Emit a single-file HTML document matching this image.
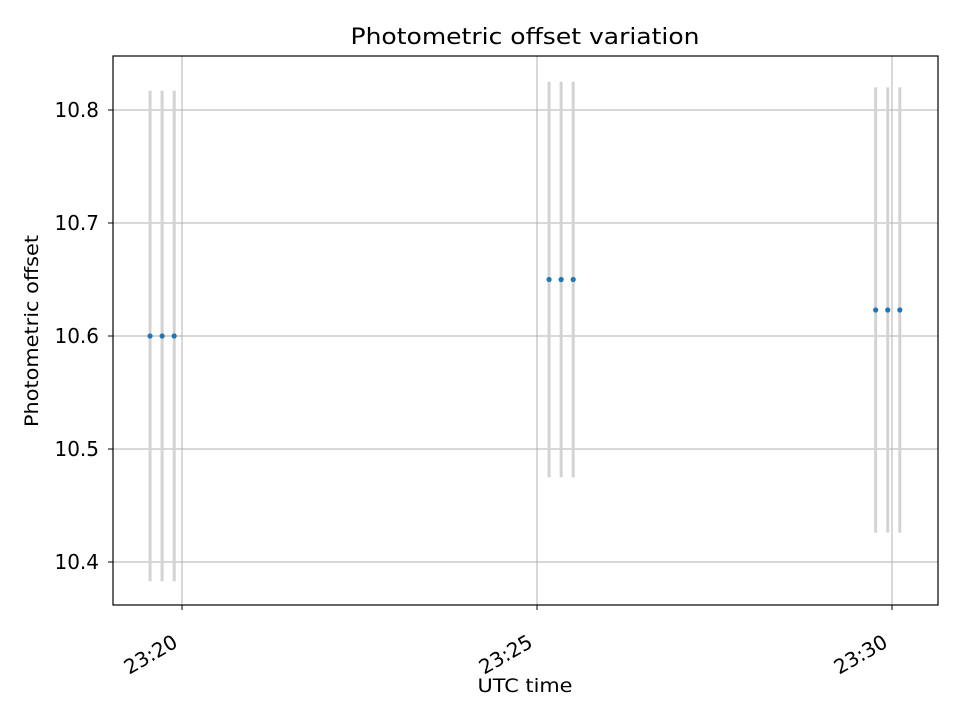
<!DOCTYPE html>
<html><head><meta charset="utf-8"><style>
body{margin:0;background:#fff;}
svg text{font-family:"DejaVu Sans","Liberation Sans",sans-serif;fill:#000;}
</style></head><body>
<svg id="chart" width="960" height="720" viewBox="0 0 960 720" xmlns="http://www.w3.org/2000/svg">
<rect x="0" y="0" width="960" height="720" fill="#fff"/>
<text x="525" y="44" text-anchor="middle" font-size="22" textLength="349" lengthAdjust="spacingAndGlyphs">Photometric offset variation</text>
<g id="grid"></g>
<g id="series"></g>
<rect x="113" y="56" width="825" height="549" fill="none" stroke="#000" stroke-width="1.2"/>
<g id="axes"></g>
<text x="525" y="692" text-anchor="middle" font-size="19" textLength="95" lengthAdjust="spacingAndGlyphs">UTC time</text>
<text transform="translate(38,331) rotate(-90)" text-anchor="middle" font-size="19" textLength="192" lengthAdjust="spacingAndGlyphs">Photometric offset</text>
</svg>
<script>
// minutes after 23:00
const times = [19.55, 19.72, 19.89, 25.17, 25.34, 25.51, 29.77, 29.94, 30.11];
const offsets = [10.600, 10.600, 10.600, 10.650, 10.650, 10.650, 10.623, 10.623, 10.623];
const errors = [0.217, 0.217, 0.217, 0.175, 0.175, 0.175, 0.197, 0.197, 0.197];
const yTicks = [10.4, 10.5, 10.6, 10.7, 10.8];
const xTickMinutes = [20, 25, 30];
const xTickLabels = ["23:20", "23:25", "23:30"];

const NS = "http://www.w3.org/2000/svg";
function xs(m){ return 182 + (m - 20) * 71; }
function ys(v){ return 562 - (v - 10.4) * 1130; }
function mk(tag, attrs, parent){ const e = document.createElementNS(NS, tag); for (const k in attrs) e.setAttribute(k, attrs[k]); parent.appendChild(e); return e; }
const grid = document.getElementById('grid'), axes = document.getElementById('axes'), series = document.getElementById('series');

yTicks.forEach(v => {
  const y = ys(v);
  const g = mk('line', {x1:113, x2:938, y1:y, y2:y, stroke:'#b0b0b0', 'stroke-width':1}, grid);
  
  
  mk('line', {x1:108, x2:113, y1:y, y2:y, stroke:'#000', 'stroke-width':1}, axes);
  const t = mk('text', {x:99, y:y + 7, 'text-anchor':'end', 'font-size':20}, axes);
  t.textContent = v.toFixed(1);
  
  
});
xTickMinutes.forEach((m, i) => {
  const x = xs(m);
  const g = mk('line', {x1:x, x2:x, y1:56, y2:605, stroke:'#b0b0b0', 'stroke-width':1}, grid);
  
  
  mk('line', {x1:x, x2:x, y1:605, y2:610, stroke:'#000', 'stroke-width':1}, axes);
  const t = mk('text', {transform:`translate(${x - 3},${646}) rotate(-30)`, 'text-anchor':'end', 'font-size':20}, axes);
  t.textContent = xTickLabels[i];
  
  
});
times.forEach((m, i) => {
  const x = xs(m);
  const b = mk('line', {x1:x, x2:x, y1:ys(offsets[i] + errors[i]), y2:ys(offsets[i] - errors[i]), stroke:'#d3d3d3', 'stroke-width':3}, series);
  
  
});
times.forEach((m, i) => {
  const p = mk('circle', {cx:xs(m), cy:ys(offsets[i]), r:2.6, fill:'#1f77b4'}, series);
  
  
});
</script>
</body></html>
